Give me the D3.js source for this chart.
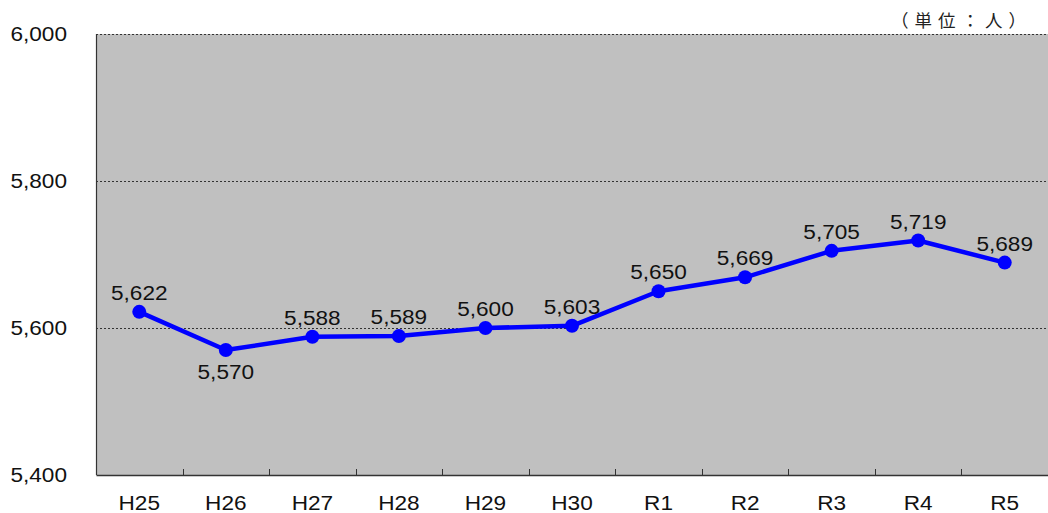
<!DOCTYPE html>
<html><head><meta charset="utf-8">
<script src="https://cdn.jsdelivr.net/npm/d3@7"></script>
<style>body{margin:0;background:#fff}svg{display:block}</style>
</head><body>
<svg id="c" width="1048" height="513"></svg>
<script>
const categories = ["H25","H26","H27","H28","H29","H30","R1","R2","R3","R4","R5"];
const values = [5622,5570,5588,5589,5600,5603,5650,5669,5705,5719,5689];
const yTicks = [5400,5600,5800,6000];
const labelBelow = [false,true,false,false,false,false,false,false,false,false,false];

const svg = d3.select("#c");
const m = {l:96, r:1048, t:34, b:475};
const x = d3.scaleBand().domain(categories).range([m.l, m.r]);
const y = d3.scaleLinear().domain([5400,6000]).range([m.b, m.t]);
const font = "Arial, 'Liberation Sans', sans-serif";
const stretch = 1.13;
function widen(sel){ sel.each(function(){ const w=this.getComputedTextLength(); this.setAttribute("textLength", w*stretch); this.setAttribute("lengthAdjust","spacingAndGlyphs"); }); }

svg.append("rect").attr("x",m.l).attr("y",m.t).attr("width",m.r-m.l).attr("height",m.b-m.t).attr("fill","#c0c0c0");

// gridlines
svg.append("g").selectAll("line").data(yTicks.filter(d=>d>5400)).join("line")
  .attr("x1",m.l).attr("x2",m.r).attr("y1",d=>Math.round(y(d))+0.5).attr("y2",d=>Math.round(y(d))+0.5)
  .attr("stroke","#333").attr("stroke-width",1).attr("stroke-dasharray","2,2");

// y axis labels
svg.append("g").selectAll("text").data(yTicks).join("text")
  .attr("x",67).attr("y",d=>y(d)).attr("dy","0.36em").attr("text-anchor","end")
  .attr("font-family",font).attr("font-size",20).attr("fill","#111")
  .text(d=>d3.format(",")(d)).call(widen);

// left axis line
svg.append("line").attr("x1",m.l+0.5).attr("x2",m.l+0.5).attr("y1",m.t).attr("y2",m.b).attr("stroke","#333").attr("stroke-width",1.2);

// x axis
const xa = svg.append("g").attr("transform",`translate(0,${m.b})`)
  .call(d3.axisBottom(x).tickSize(0).tickPadding(21));
xa.select(".domain").attr("stroke","#333").attr("stroke-width",1.5);
xa.selectAll("text").attr("font-family",font).attr("font-size",20).attr("fill","#111").call(widen);
// category boundary ticks
svg.append("g").selectAll("line").data(categories.slice(1)).join("line")
  .attr("x1",d=>Math.round(x(d))+0.5).attr("x2",d=>Math.round(x(d))+0.5)
  .attr("y1",m.b).attr("y2",m.b-6).attr("stroke","#333");

// line
const line = d3.line().x((d,i)=>x(categories[i])+x.bandwidth()/2).y(d=>y(d));
svg.append("path").datum(values).attr("d",line).attr("fill","none").attr("stroke","#0000ff").attr("stroke-width",4.5).attr("stroke-linejoin","round");
svg.append("g").selectAll("circle").data(values).join("circle")
  .attr("cx",(d,i)=>x(categories[i])+x.bandwidth()/2).attr("cy",d=>y(d)).attr("r",7).attr("fill","#0000ff");

// data labels
svg.append("g").selectAll("text").data(values).join("text")
  .attr("x",(d,i)=>x(categories[i])+x.bandwidth()/2)
  .attr("y",(d,i)=>labelBelow[i] ? y(d)+29 : y(d)-12)
  .attr("text-anchor","middle").attr("font-family",font).attr("font-size",20).attr("fill","#111")
  .text(d=>d3.format(",")(d)).call(widen);

// unit
svg.append("text").attr("x",1032).attr("y",27).attr("text-anchor","end")
  .attr("font-family","'Noto Sans CJK JP', sans-serif").attr("font-size",17.5).attr("fill","#222")
  .attr("letter-spacing","6px").text("（単位：人）");
</script>
</body></html>
